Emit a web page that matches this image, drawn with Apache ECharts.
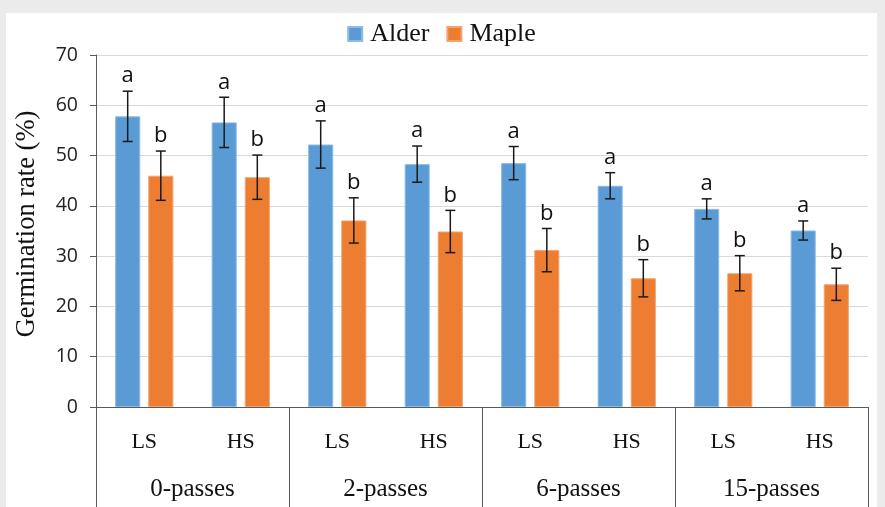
<!DOCTYPE html>
<html>
<head>
<meta charset="utf-8">
<script src="https://cdn.jsdelivr.net/npm/echarts@6/dist/echarts.min.js"></script>
<style>
  html, body { margin: 0; padding: 0; background: #ebebeb; }
  #panel { position: absolute; left: 6px; top: 13px; width: 871px; height: 494px; background: #ffffff; }
  #chart { width: 871px; height: 494px; }
</style>
</head>
<body>
<div id="panel"><div id="chart"></div></div>
<script>
// Sub-categories (sowing treatment) and passes groups
const subCategories = ['LS', 'HS', 'LS', 'HS', 'LS', 'HS', 'LS', 'HS'];
const passGroups = ['0-passes', '2-passes', '6-passes', '15-passes'];

// Germination rate (%) and standard errors
const alderValues = [57.8, 56.6, 52.2, 48.3, 48.5, 44.0, 39.4, 35.1];
const alderErrors = [5.0, 5.0, 4.7, 3.6, 3.3, 2.6, 2.0, 1.9];
const mapleValues = [46.0, 45.7, 37.1, 34.9, 31.2, 25.6, 26.6, 24.4];
const mapleErrors = [4.9, 4.4, 4.5, 4.2, 4.3, 3.7, 3.5, 3.2];

// Significance letters
const alderLetters = ['a', 'a', 'a', 'a', 'a', 'a', 'a', 'a'];
const mapleLetters = ['b', 'b', 'b', 'b', 'b', 'b', 'b', 'b'];

const yTicks = { min: 0, max: 70, interval: 10 };

const BAR_FRAC = 0.26;   // bar width as share of a category band
const GAP_FRAC = 0.32;   // gap between paired bars as share of bar width
const AXIS_COLOR = '#595959';

function errorRenderer(side, letters) {
  return function (params, api) {
    const idx = api.value(0);
    const v = api.value(1);
    const e = api.value(2);
    const band = api.size([1, 0])[0];
    const shift = side * band * BAR_FRAC * (1 + GAP_FRAC) / 2;
    const top = api.coord([idx, v + e]);
    const bot = api.coord([idx, v - e]);
    const x = top[0] + shift;
    const cap = 5;
    const style = { stroke: '#1a1a1a', lineWidth: 1.5 };
    return {
      type: 'group',
      children: [
        { type: 'line', shape: { x1: x, y1: top[1], x2: x, y2: bot[1] }, style: style },
        { type: 'line', shape: { x1: x - cap, y1: top[1], x2: x + cap, y2: top[1] }, style: style },
        { type: 'line', shape: { x1: x - cap, y1: bot[1], x2: x + cap, y2: bot[1] }, style: style },
        {
          type: 'text',
          style: {
            text: letters[params.dataIndex],
            x: x, y: top[1] - 4,
            align: 'center', verticalAlign: 'bottom',
            font: '22px "Open Sans"', fill: '#111'
          }
        }
      ]
    };
  };
}

function errorData(values, errors) {
  return values.map((v, i) => [i, v, errors[i]]);
}

const chart = echarts.init(document.getElementById('chart'));
chart.setOption({
  animation: false,
  legend: {
    top: 3,
    left: 'center',
    itemWidth: 14,
    itemHeight: 14,
    itemGap: 17,
    icon: 'rect',
    data: ['Alder', 'Maple'],
    textStyle: { fontFamily: 'Liberation Serif', fontSize: 26, color: '#111', padding: [0, 0, 0, 3] }
  },
  grid: { left: 90, right: 9, top: 42, bottom: 100, containLabel: false, outerBoundsMode: 'none' },
  xAxis: [
    {
      type: 'category',
      data: subCategories,
      position: 'bottom',
      axisLine: { show: true, lineStyle: { color: AXIS_COLOR, width: 1 } },
      axisTick: { show: false },
      axisLabel: { margin: 24, fontFamily: 'Liberation Serif', fontSize: 22, color: '#111', interval: 0 },
      splitLine: { show: false }
    },
    {
      type: 'category',
      data: passGroups,
      position: 'bottom',
      axisLine: { show: true, lineStyle: { color: AXIS_COLOR, width: 1 } },
      axisTick: { show: true, length: 100, interval: 0, lineStyle: { color: AXIS_COLOR, width: 1 } },
      axisLabel: { margin: 70, fontFamily: 'Liberation Serif', fontSize: 25, color: '#111', interval: 0 },
      splitLine: { show: false }
    }
  ],
  yAxis: {
    type: 'value',
    min: yTicks.min,
    max: yTicks.max,
    interval: yTicks.interval,
    name: 'Germination rate (%)',
    nameLocation: 'middle',
    nameGap: 55,
    nameTextStyle: { fontFamily: 'Liberation Serif', fontSize: 26.5, color: '#111', padding: [0, 0, 0, 14] },
    axisLine: { show: true, lineStyle: { color: AXIS_COLOR, width: 1 } },
    axisTick: { show: true, length: 6, lineStyle: { color: AXIS_COLOR } },
    axisLabel: { margin: 18, fontFamily: 'Open Sans', fontSize: 19.5, color: '#222' },
    splitLine: { show: true, lineStyle: { color: '#d9d9d9', width: 1 } }
  },
  series: [
    {
      name: 'Alder', type: 'bar', data: alderValues,
      barWidth: (BAR_FRAC * 100) + '%', barGap: (GAP_FRAC * 100) + '%',
      itemStyle: { color: '#5b9bd5', borderColor: '#8dbbe6', borderWidth: 1 }
    },
    {
      name: 'Maple', type: 'bar', data: mapleValues,
      barWidth: (BAR_FRAC * 100) + '%', barGap: (GAP_FRAC * 100) + '%',
      itemStyle: { color: '#ed7d31', borderColor: '#f3a36d', borderWidth: 1 }
    },
    {
      type: 'custom', renderItem: errorRenderer(-1, alderLetters),
      data: errorData(alderValues, alderErrors), encode: { x: 0, y: 1 }, z: 5, silent: true
    },
    {
      type: 'custom', renderItem: errorRenderer(1, mapleLetters),
      data: errorData(mapleValues, mapleErrors), encode: { x: 0, y: 1 }, z: 5, silent: true
    }
  ]
});
</script>
</body>
</html>
